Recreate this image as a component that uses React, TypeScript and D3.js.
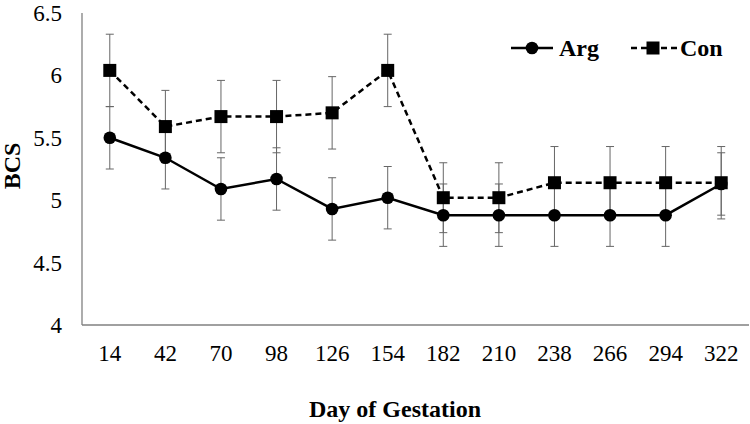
import React from "react";
import * as d3 from "d3";

const days = ["14", "42", "70", "98", "126", "154", "182", "210", "238", "266", "294", "322"];
const argValues = [5.5, 5.34, 5.09, 5.17, 4.93, 5.02, 4.88, 4.88, 4.88, 4.88, 4.88, 5.13];
const argErrors = [0.25, 0.25, 0.25, 0.25, 0.25, 0.25, 0.25, 0.25, 0.25, 0.25, 0.25, 0.25];
const conValues = [6.04, 5.59, 5.67, 5.67, 5.7, 6.04, 5.02, 5.02, 5.14, 5.14, 5.14, 5.14];
const conErrors = [0.29, 0.29, 0.29, 0.29, 0.29, 0.29, 0.28, 0.28, 0.29, 0.29, 0.29, 0.29];
const yTicks = [4, 4.5, 5, 5.5, 6, 6.5];

const W = 750;
const H = 424;
const left = 82;
const right = 749;
const top = 13;
const bottom = 325;

export default function App() {
  const x = d3.scaleBand<string>().domain(days).range([left, right]);
  const y = d3.scaleLinear().domain([4, 6.5]).range([bottom, top]);
  const cx = (d: string) => (x(d) as number) + x.bandwidth() / 2;
  const line = d3
    .line<number>()
    .x((_, i) => cx(days[i]))
    .y((v) => y(v));
  const font = "'Liberation Serif', 'Times New Roman', serif";
  const errColor = "#666";

  const errBars = (vals: number[], errs: number[], key: string) =>
    vals.map((v, i) => {
      const px = cx(days[i]);
      const y1 = y(v + errs[i]);
      const y2 = y(v - errs[i]);
      return (
        <g key={key + i} stroke={errColor} strokeWidth={1}>
          <line x1={px} x2={px} y1={y1} y2={y2} />
          <line x1={px - 4} x2={px + 4} y1={y1} y2={y1} />
          <line x1={px - 4} x2={px + 4} y1={y2} y2={y2} />
        </g>
      );
    });

  return (
    <svg width={W} height={H} style={{ position: "absolute", left: 0, top: 0, background: "#fff" }}>
      <rect width={W} height={H} fill="#fff" />
      {/* axes */}
      <line x1={left} x2={left} y1={top} y2={bottom} stroke="#808080" strokeWidth={1.3} />
      <line x1={left} x2={right} y1={bottom} y2={bottom} stroke="#808080" strokeWidth={1.3} />
      {yTicks.map((t) => (
        <text key={t} x={62} y={y(t)} dy="0.35em" textAnchor="end" fontFamily={font} fontSize={23} fill="#000">
          {t}
        </text>
      ))}
      {days.map((d) => (
        <text key={d} x={cx(d)} y={353} dy="0.35em" textAnchor="middle" fontFamily={font} fontSize={23} fill="#000">
          {d}
        </text>
      ))}
      <text x={395} y={409} dy="0.35em" textAnchor="middle" fontFamily={font} fontSize={24} fontWeight="bold">
        Day of Gestation
      </text>
      <text
        transform={`translate(12,166) rotate(-90)`}
        dy="0.35em"
        textAnchor="middle"
        fontFamily={font}
        fontSize={24}
        fontWeight="bold"
      >
        BCS
      </text>
      {/* error bars */}
      {errBars(conValues, conErrors, "c")}
      {errBars(argValues, argErrors, "a")}
      {/* lines */}
      <path d={line(conValues) || ""} fill="none" stroke="#000" strokeWidth={2.5} strokeDasharray="6,4" />
      <path d={line(argValues) || ""} fill="none" stroke="#000" strokeWidth={2.5} />
      {conValues.map((v, i) => (
        <rect key={"cs" + i} x={cx(days[i]) - 6.5} y={y(v) - 6.5} width={13} height={13} fill="#000" />
      ))}
      {argValues.map((v, i) => (
        <circle key={"ac" + i} cx={cx(days[i])} cy={y(v)} r={6.3} fill="#000" />
      ))}
      {/* legend */}
      <g>
        <line x1={511} x2={553} y1={48} y2={48} stroke="#000" strokeWidth={2.5} />
        <circle cx={532} cy={48} r={6.3} fill="#000" />
        <text x={559} y={48} dy="0.35em" fontFamily={font} fontSize={24} fontWeight="bold">
          Arg
        </text>
        <line x1={631} x2={677} y1={48} y2={48} stroke="#000" strokeWidth={2.5} strokeDasharray="6,4" />
        <rect x={653 - 6.5} y={48 - 6.5} width={13} height={13} fill="#000" />
        <text x={680} y={48} dy="0.35em" fontFamily={font} fontSize={24} fontWeight="bold">
          Con
        </text>
      </g>
    </svg>
  );
}
